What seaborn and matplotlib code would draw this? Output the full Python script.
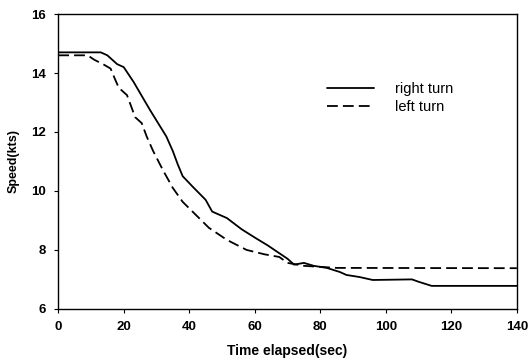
import matplotlib
matplotlib.use("Agg")
import matplotlib.pyplot as plt
import pandas as pd
import seaborn as sns

sns.set_theme(style="ticks")
plt.rcParams['font.family'] = ['Liberation Sans', 'DejaVu Sans']
plt.rcParams['text.color'] = 'black'
plt.rcParams['axes.labelcolor'] = 'black'
plt.rcParams['xtick.color'] = 'black'
plt.rcParams['ytick.color'] = 'black'

# values
right_t = [0, 10, 13, 15, 18, 20, 23, 28, 33, 35, 36.5, 38, 41, 45, 47, 51.5, 56, 60, 64,
           66, 70, 72, 75, 78, 82, 86, 88, 92, 96, 108, 110, 114, 140]
right_v = [14.7, 14.7, 14.7, 14.6, 14.3, 14.2, 13.7, 12.75, 11.85, 11.35, 10.9, 10.5, 10.15,
           9.7, 9.3, 9.08, 8.7, 8.42, 8.15, 8.0, 7.7, 7.5, 7.56, 7.46, 7.39, 7.25, 7.15, 7.08,
           6.98, 7.0, 6.92, 6.78, 6.78]
left_t = [0, 9, 11, 14, 16, 17.5, 18.5, 21, 23.5, 25.5, 27, 29, 32, 35, 38, 42, 46, 51.5,
          57.5, 63, 67.5, 70, 75, 85, 140]
left_v = [14.6, 14.6, 14.45, 14.28, 14.15, 13.75, 13.5, 13.25, 12.5, 12.3, 11.85, 11.35,
          10.7, 10.1, 9.63, 9.19, 8.75, 8.34, 8.0, 7.85, 7.76, 7.56, 7.46, 7.39, 7.38]

df = pd.concat([
    pd.DataFrame({'time': right_t, 'speed': right_v, 'turn': 'right turn'}),
    pd.DataFrame({'time': left_t, 'speed': left_v, 'turn': 'left turn'}),
])

fig = plt.figure(figsize=(5.29, 3.6), dpi=100)
ax = fig.add_axes([0.110, 0.142, 0.867, 0.819])

sns.lineplot(data=df, x='time', y='speed', hue='turn', style='turn',
             palette=['black', 'black'], dashes=[(None, None), (6, 2.8)],
             linewidth=1.3, sort=False, estimator=None, ax=ax)

ax.set_xlim(0, 140)
ax.set_ylim(6, 16)
ax.set_xticks(range(0, 141, 20))
ax.set_yticks(range(6, 17, 2))
ax.set_xlabel('Time elapsed(sec)', fontsize=10, fontweight='bold', labelpad=8)
ax.set_ylabel('Speed(kts)', fontsize=9, fontweight='bold', labelpad=8)
ax.tick_params(labelsize=9.5, length=3, width=0.8, pad=6)
for lab in ax.get_xticklabels() + ax.get_yticklabels():
    lab.set_fontweight('bold')
for s in ax.spines.values():
    s.set_visible(True)
    s.set_color('black')
    s.set_linewidth(1.0)

ax.legend(loc='center left', bbox_to_anchor=(0.586, 0.715), frameon=False,
          fontsize=10.5, handlelength=3.2, handletextpad=1.5, labelspacing=0.3,
          borderpad=0, borderaxespad=0)

fig.savefig('out.png', dpi=100)
